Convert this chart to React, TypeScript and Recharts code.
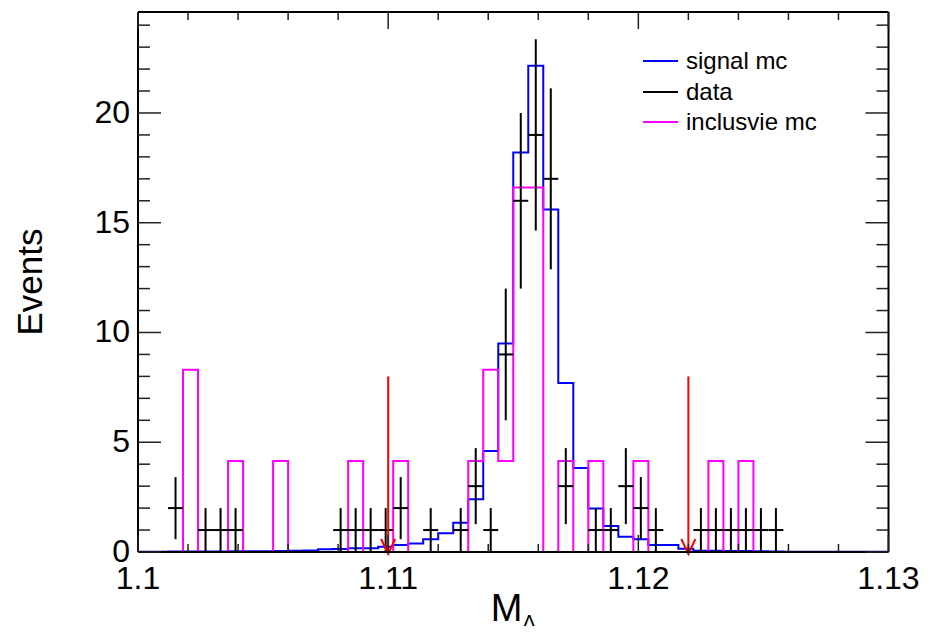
import React from 'react';
import { ComposedChart, Line, Scatter, ErrorBar, XAxis, YAxis, ReferenceLine, Legend } from 'recharts';

const FONT = '"Liberation Sans", Arial, Helvetica, sans-serif';

// binning of the histograms (50 bins from 1.1 to 1.13)
const xMin = 1.1;
const binWidth = 0.0006;

const signalMc = [
  0.01, 0.01, 0.02, 0.02, 0.02, 0.02, 0.03, 0.03, 0.03, 0.04,
  0.06, 0.07, 0.13, 0.14, 0.17, 0.17, 0.24, 0.32, 0.39, 0.58,
  0.85, 1.33, 2.4, 4.6, 9.5, 18.2, 22.15, 15.6, 7.7, 3.83,
  1.98, 1.18, 0.7, 0.58, 0.32, 0.32, 0.15, 0.06, 0.06, 0.05,
  0.05, 0.03, 0.02, 0.01, 0.01, 0.01, 0.01, 0.01, 0.01, 0.01,
];

const inclusiveMc = [
  0, 0, 0, 8.3, 0, 0, 4.15, 0, 0, 4.15,
  0, 0, 0, 0, 4.15, 0, 0, 4.15, 0, 0,
  0, 0, 4.15, 8.3, 4.15, 16.6, 16.6, 0, 4.15, 0,
  4.15, 0, 0, 4.15, 0, 0, 0, 0, 4.15, 0,
  4.15, 0, 0, 0, 0, 0, 0, 0, 0, 0,
];

const dataCounts = [
  0, 0, 2, 0, 1, 1, 1, 0, 0, 0,
  0, 0, 0, 1, 1, 1, 1, 2, 0, 1,
  0, 1, 3, 1, 9, 16, 19, 17, 3, 0,
  1, 1, 3, 2, 1, 0, 0, 1, 1, 1,
  1, 1, 1, 0, 0, 0, 0, 0, 0, 0,
];

const xTicks = [1.1, 1.102, 1.104, 1.106, 1.108, 1.11, 1.112, 1.114, 1.116, 1.118, 1.12, 1.122, 1.124, 1.126, 1.128, 1.13];
const xLabelTicks = [1.1, 1.11, 1.12, 1.13];
const xTickLabels = ['1.1', '1.11', '1.12', '1.13'];
const yTicks = [0, 1, 2, 3, 4, 5, 6, 7, 8, 9, 10, 11, 12, 13, 14, 15, 16, 17, 18, 19, 20, 21, 22, 23, 24];
const yLabelTicks = [0, 5, 10, 15, 20];
const yTickLabels = ['0', '5', '10', '15', '20'];

const cutPositions = [1.11, 1.122];
const cutHeight = 8;

const legendItems = [
  { name: 'signal mc', color: '#0000ff' },
  { name: 'data', color: '#000000' },
  { name: 'inclusvie mc', color: '#ff00ff' },
];

// step outline points: one per lower bin edge + closing edge
const toSteps = (vals: number[]) => [
  ...vals.map((v, i) => ({ x: xMin + i * binWidth, y: v })),
  { x: xMin + vals.length * binWidth, y: vals[vals.length - 1] },
];

const signalSteps = toSteps(signalMc);
const inclusiveSteps = toSteps(inclusiveMc);
const dataPoints = dataCounts
  .map((n, i) => ({ x: xMin + (i + 0.5) * binWidth, y: n, ex: binWidth / 2, ey: Math.sqrt(n) }))
  .filter((p) => p.y > 0);

const findIdx = (arr: number[], v: number) => arr.findIndex((t) => Math.abs(t - v) < 1e-9);

const BottomTick = (props: any) => {
  const { x, y, payload } = props;
  const idx = findIdx(xLabelTicks, payload.value);
  return (
    <g>
      <line x1={x} y1={y} x2={x} y2={y - (idx >= 0 ? 17 : 8)} stroke="#222" strokeWidth={1.5} />
      {idx >= 0 && (
        <text x={x} y={y + 37} textAnchor="middle" fontSize={32} fontFamily={FONT} fill="#000">
          {xTickLabels[idx]}
        </text>
      )}
    </g>
  );
};

const TopTick = (props: any) => {
  const { x, y, payload } = props;
  const major = findIdx(xLabelTicks, payload.value) >= 0;
  return <line x1={x} y1={y} x2={x} y2={y + (major ? 17 : 8)} stroke="#222" strokeWidth={1.5} />;
};

const LeftTick = (props: any) => {
  const { x, y, payload } = props;
  const idx = findIdx(yLabelTicks, payload.value);
  return (
    <g>
      <line x1={x} y1={y} x2={x + (idx >= 0 ? 23 : 12)} y2={y} stroke="#222" strokeWidth={1.5} />
      {idx >= 0 && (
        <text x={x - 8} y={y + 10} textAnchor="end" fontSize={32} fontFamily={FONT} fill="#000">
          {yTickLabels[idx]}
        </text>
      )}
    </g>
  );
};

const RightTick = (props: any) => {
  const { x, y, payload } = props;
  const major = findIdx(yLabelTicks, payload.value) >= 0;
  return <line x1={x} y1={y} x2={x - (major ? 23 : 12)} y2={y} stroke="#222" strokeWidth={1.5} />;
};

const CutArrow = (props: any) => {
  const { x1, y1, x2, y2 } = props;
  return (
    <g>
      <line x1={x1} y1={y1} x2={x2} y2={y2 + 2} stroke="#ff0000" strokeWidth={2} />
      <path d={`M${x2 - 7},${y2 - 13} L${x2},${y2 + 2} L${x2 + 7},${y2 - 13}`} fill="none" stroke="#ff0000" strokeWidth={2} />
    </g>
  );
};

const LegendBox = () => (
  <div style={{ fontFamily: FONT, fontSize: 24, color: '#000' }}>
    {legendItems.map((it) => (
      <div key={it.name} style={{ display: 'flex', alignItems: 'center', height: 30.5 }}>
        <span style={{ display: 'inline-block', width: 35, height: 2, background: it.color, marginRight: 8 }} />
        <span style={{ lineHeight: '24px' }}>{it.name}</span>
      </div>
    ))}
  </div>
);

export default function App() {
  return (
    <div style={{ margin: -8, width: 932, height: 634, background: '#fff' }}>
      <ComposedChart width={932} height={634} margin={{ top: 10, right: 33.5, left: 28, bottom: 22 }}>
        <XAxis
          xAxisId={0}
          type="number"
          dataKey="x"
          domain={[1.1, 1.13]}
          allowDataOverflow
          ticks={xTicks}
          interval={0}
          tick={<BottomTick />}
          tickLine={false}
          tickSize={0}
          tickMargin={0}
          axisLine={{ stroke: '#000', strokeWidth: 2 }}
          height={60}
          label={{
            content: (p: any) => {
              const vb = p.viewBox;
              return (
                <text x={vb.x + vb.width / 2} y={vb.y + 69} textAnchor="middle" fontSize={38} fontFamily={FONT} fill="#000">
                  M<tspan fontSize={20} dy={8}>Λ</tspan>
                </text>
              );
            },
          }}
        />
        <XAxis
          xAxisId="top"
          orientation="top"
          type="number"
          dataKey="x"
          domain={[1.1, 1.13]}
          allowDataOverflow
          ticks={xTicks}
          interval={0}
          tick={<TopTick />}
          tickLine={false}
          tickSize={0}
          tickMargin={0}
          axisLine={{ stroke: '#000', strokeWidth: 2 }}
          height={2}
        />
        <YAxis
          yAxisId={0}
          type="number"
          dataKey="y"
          domain={[0, 24.6]}
          allowDataOverflow
          ticks={yTicks}
          interval={0}
          tick={<LeftTick />}
          tickLine={false}
          tickSize={0}
          tickMargin={0}
          axisLine={{ stroke: '#000', strokeWidth: 2 }}
          width={110}
          label={{
            content: (p: any) => {
              const vb = p.viewBox;
              const cx = vb.x + 14;
              const cy = vb.y + vb.height / 2;
              return (
                <text x={cx} y={cy} transform={`rotate(-90, ${cx}, ${cy})`} textAnchor="middle" fontSize={35} fontFamily={FONT} fill="#000">
                  Events
                </text>
              );
            },
          }}
        />
        <YAxis
          yAxisId="right"
          orientation="right"
          type="number"
          dataKey="y"
          domain={[0, 24.6]}
          allowDataOverflow
          ticks={yTicks}
          interval={0}
          tick={<RightTick />}
          tickLine={false}
          tickSize={0}
          tickMargin={0}
          axisLine={{ stroke: '#000', strokeWidth: 2 }}
          width={10}
        />
        <Legend
          layout="horizontal"
          verticalAlign="middle"
          align="center"
          wrapperStyle={{ position: 'absolute', left: 643, top: 46, width: 220 }}
          content={() => <LegendBox />}
        />
        <Line
          data={signalSteps}
          dataKey="y"
          type="stepAfter"
          stroke="#0000ff"
          strokeWidth={2}
          dot={false}
          activeDot={false}
          isAnimationActive={false}
        />
        <Line
          data={inclusiveSteps}
          dataKey="y"
          xAxisId="top"
          yAxisId="right"
          type="stepAfter"
          stroke="#ff00ff"
          strokeWidth={2}
          dot={false}
          activeDot={false}
          isAnimationActive={false}
        />
        <Scatter data={dataPoints} dataKey="y" shape={() => <g />} isAnimationActive={false}>
          <ErrorBar dataKey="ey" direction="y" width={0} stroke="#000" strokeWidth={2} isAnimationActive={false} />
          <ErrorBar dataKey="ex" direction="x" width={0} stroke="#000" strokeWidth={2} isAnimationActive={false} />
        </Scatter>
        {cutPositions.map((c) => (
          <ReferenceLine
            key={c}
            segment={[{ x: c, y: cutHeight }, { x: c, y: 0 }]}
            stroke="#ff0000"
            shape={(p: any) => <CutArrow {...p} />}
          />
        ))}
      </ComposedChart>
    </div>
  );
}
